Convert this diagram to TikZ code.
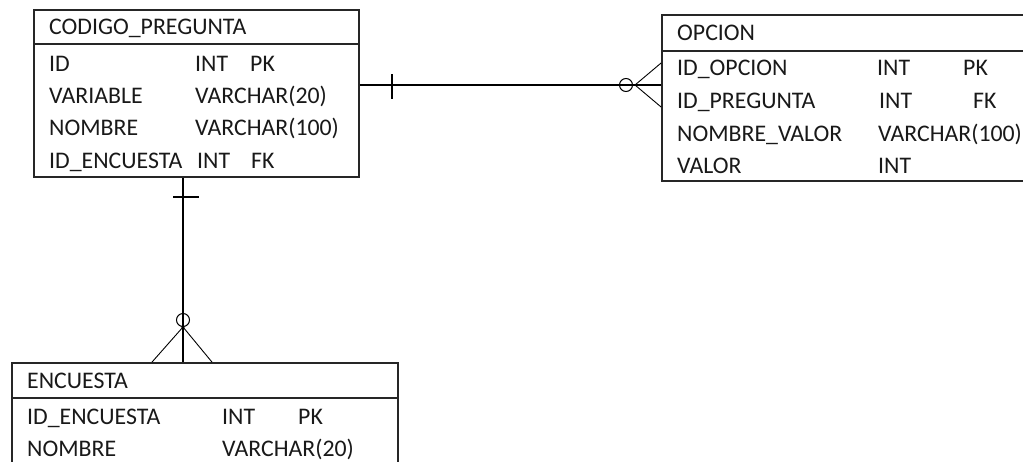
\documentclass[tikz,border=0pt]{standalone}
\usepackage{fontspec}
\setmainfont{Carlito}
\begin{document}
\begin{tikzpicture}[x=1pt,y=-1pt,
  box/.style={draw=black!85,line width=1.8pt,rectangle,inner sep=0pt},
  sepline/.style={draw=black!85,line width=1.6pt},
  txt/.style={anchor=base west,inner sep=0pt,text=black!90,font=\fontsize{23.8}{27}\selectfont},
  rel/.style={draw=black,line width=1.4pt},
  crow/.style={draw=black,line width=0.9pt},
  ring/.style={draw=black,line width=1pt,circle,minimum size=13pt,inner sep=0pt}]
\useasboundingbox (0,0) rectangle (1023,461);
\fill[white] (0,0) rectangle (1023,461);
% CODIGO_PREGUNTA
\node[box,minimum width=325pt,minimum height=167pt] (cp) at (196.5,93.5) {};
\draw[sepline] (34,44) coordinate (cps1) -- (359,44) coordinate (cps2);
\node[txt] (cph) at (49,34) {CODIGO\_PREGUNTA};
\node[txt] (cp1a) at (49,71) {ID};
\node[txt] (cp1b) at (195,71) {INT};
\node[txt] (cp1c) at (250,71) {PK};
\node[txt] (cp2a) at (49,103) {VARIABLE};
\node[txt] (cp2b) at (195,103) {VARCHAR(20)};
\node[txt] (cp3a) at (49,135) {NOMBRE};
\node[txt] (cp3b) at (195,135) {VARCHAR(100)};
\node[txt] (cp4a) at (49,168) {ID\_ENCUESTA};
\node[txt] (cp4b) at (197,168) {INT};
\node[txt] (cp4c) at (251,168) {FK};
% OPCION
\node[box,minimum width=380pt,minimum height=166pt] (op) at (852,98) {};
\draw[sepline] (662,51) coordinate (ops1) -- (1030,51) coordinate (ops2);
\node[txt] (oph) at (677,40) {OPCION};
\node[txt] (op1a) at (677,75) {ID\_OPCION};
\node[txt] (op1b) at (877,75) {INT};
\node[txt] (op1c) at (963,75) {PK};
\node[txt] (op2a) at (677,108) {ID\_PREGUNTA};
\node[txt] (op2b) at (879,108) {INT};
\node[txt] (op2c) at (973,108) {FK};
\node[txt] (op3a) at (677,141) {NOMBRE\_VALOR};
\node[txt] (op3b) at (878,141) {VARCHAR(100)};
\node[txt] (op4a) at (677,173) {VALOR};
\node[txt] (op4b) at (878,173) {INT};
% ENCUESTA
\node[box,minimum width=386pt,minimum height=120pt] (en) at (205,423) {};
\draw[sepline] (12,398) coordinate (ens1) -- (398,398) coordinate (ens2);
\node[txt] (enh) at (27,388) {ENCUESTA};
\node[txt] (en1a) at (27,424) {ID\_ENCUESTA};
\node[txt] (en1b) at (222,424) {INT};
\node[txt] (en1c) at (298,424) {PK};
\node[txt] (en2a) at (27,456) {NOMBRE};
\node[txt] (en2b) at (222,456) {VARCHAR(20)};
% relation CODIGO_PREGUNTA -- OPCION
\coordinate (r1s) at (cp.east |- 0,85);
\coordinate (r1e) at (op.west |- 0,85);
\draw[rel] (r1s) -- (r1e);
\draw[rel] (392,74) -- (392,99);
\node[ring] (r1c) at (626,85) {};
\coordinate (r1a) at (635,85);
\draw[crow] (op.west |- 0,63) -- (r1a) -- (op.west |- 0,107);
% relation CODIGO_PREGUNTA -- ENCUESTA
\coordinate (r2s) at (cp.south -| 183,0);
\coordinate (r2e) at (en.north -| 183,0);
\draw[rel] (r2s) -- (r2e);
\draw[rel] (173,197) -- (199,197);
\node[ring] (r2c) at (183,320) {};
\coordinate (r2a) at (183,327);
\draw[crow] (en.north -| 152,0) -- (r2a) -- (en.north -| 212,0);
\fill (r2a) circle (1.8pt);
\end{tikzpicture}
\end{document}
